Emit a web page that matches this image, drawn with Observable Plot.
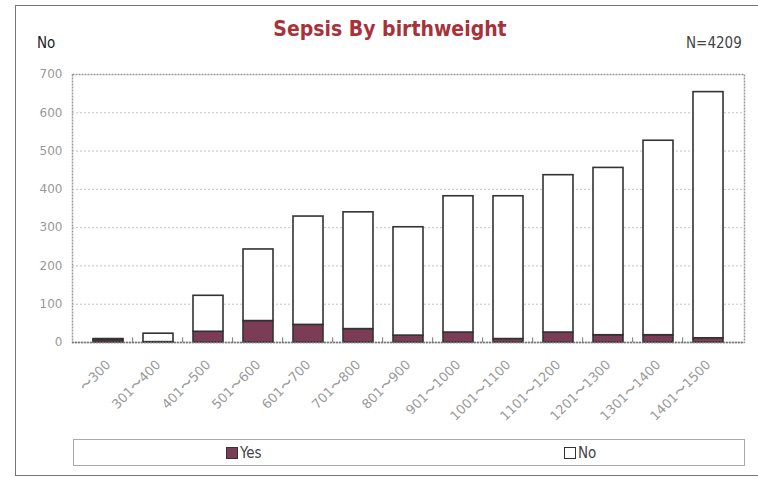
<!DOCTYPE html>
<html>
<head>
<meta charset="utf-8">
<script src="https://cdn.jsdelivr.net/npm/d3@7"></script>
<script src="https://cdn.jsdelivr.net/npm/@observablehq/plot@0.6"></script>
<style>
  html, body { margin: 0; padding: 0; background: #fff; }
  #wrap { position: relative; width: 758px; height: 477px; overflow: hidden; background: #fff; }
  #frame { position: absolute; left: 15px; top: 5px; width: 800px; height: 471px; border: 1.5px solid #777; box-sizing: border-box; }
  .lbl { position: absolute; font-family: "DejaVu Sans Condensed", "DejaVu Sans", sans-serif; }
  #title { left: 0; width: 780px; top: 17px; text-align: center; font-size: 21px; font-weight: bold; color: #a8323a; }
  #ylab { left: 37px; top: 34px; font-size: 15px; color: #222; }
  #nlab { left: 686px; top: 34px; font-size: 15px; color: #444; }
  #chart { position: absolute; left: 0; top: 0; }
  #legend { position: absolute; left: 73px; top: 439px; width: 672px; height: 27px; border: 1px solid #aaa; box-sizing: border-box; }
  .item { position: absolute; top: 4px; font-size: 15px; color: #444; font-family: "DejaVu Sans Condensed", "DejaVu Sans", sans-serif; display: flex; align-items: center; }
  .sw { width: 10px; height: 10px; border: 1px solid #333; margin-right: 2px; }
</style>
</head>
<body>
<div id="wrap">
  <div id="frame"></div>
  <div id="chart"></div>
  <div id="title" class="lbl">Sepsis By birthweight</div>
  <div id="ylab" class="lbl">No</div>
  <div id="nlab" class="lbl">N=4209</div>
  <div id="legend"></div>
</div>
<script>
const categories = ["〜300","301〜400","401〜500","501〜600","601〜700","701〜800","801〜900","901〜1000","1001〜1100","1101〜1200","1201〜1300","1301〜1400","1401〜1500"];
const yesValues = [6, 1, 28, 56, 46, 35, 18, 26, 9, 26, 19, 19, 11];
const noValues  = [3, 22, 94, 187, 283, 305, 283, 356, 373, 411, 437, 508, 643];
const seriesNames = ["Yes", "No"];
const seriesColors = ["#7d3c55", "#ffffff"];
const yTicks = [0, 100, 200, 300, 400, 500, 600, 700];

const rows = [];
categories.forEach((c, i) => {
  rows.push({cat: c, series: "Yes", value: yesValues[i]});
  rows.push({cat: c, series: "No", value: noValues[i]});
});

const W = 758, ML = 72, MR = 14;
const step = (W - ML - MR) / categories.length;

const chart = Plot.plot({
  width: W,
  height: 430,
  marginTop: 74,
  marginBottom: 88,
  marginLeft: ML,
  marginRight: MR,
  style: {fontFamily: "DejaVu Sans, Verdana, sans-serif", fontSize: "12px", color: "#999", background: "transparent"},
  x: {domain: categories, padding: 0.4, label: null, tickRotate: -45, tickSize: 0, tickPadding: 20},
  y: {domain: [0, 700], ticks: yTicks, label: null, tickSize: 0, tickPadding: 10},
  color: {domain: seriesNames, range: seriesColors},
  marks: [
    Plot.ruleY(yTicks.filter(d => d > 0 && d < 700), {stroke: "#c4c4c4", strokeDasharray: "2,2", strokeWidth: 1}),
    Plot.frame({stroke: "#999", strokeDasharray: "2,1", strokeWidth: 1.5}),
    Plot.barY(rows, Plot.stackY({order: seriesNames}, {x: "cat", y: "value", fill: "series", stroke: "#333", strokeWidth: 1.6})),
    Plot.ruleY([0], {stroke: "#777", strokeDasharray: "2,1", strokeWidth: 1.5}),
    Plot.ruleX(categories.slice(1), {x: d => d, dx: -step / 2, y1: 0, y2: 12, stroke: "#777", strokeWidth: 1})
  ]
});
chart.querySelectorAll('g[aria-label="x-axis tick label"] text').forEach(t => {
  t.setAttribute("font-size", "13");
});
document.getElementById("chart").appendChild(chart);

const legend = document.getElementById("legend");
const legendX = [152, 490];
seriesNames.forEach((s, i) => {
  const it = document.createElement("div");
  it.className = "item";
  it.style.left = legendX[i] + "px";
  const sw = document.createElement("span");
  sw.className = "sw";
  sw.style.background = seriesColors[i];
  it.appendChild(sw);
  it.appendChild(document.createTextNode(s));
  legend.appendChild(it);
});
</script>
</body>
</html>
